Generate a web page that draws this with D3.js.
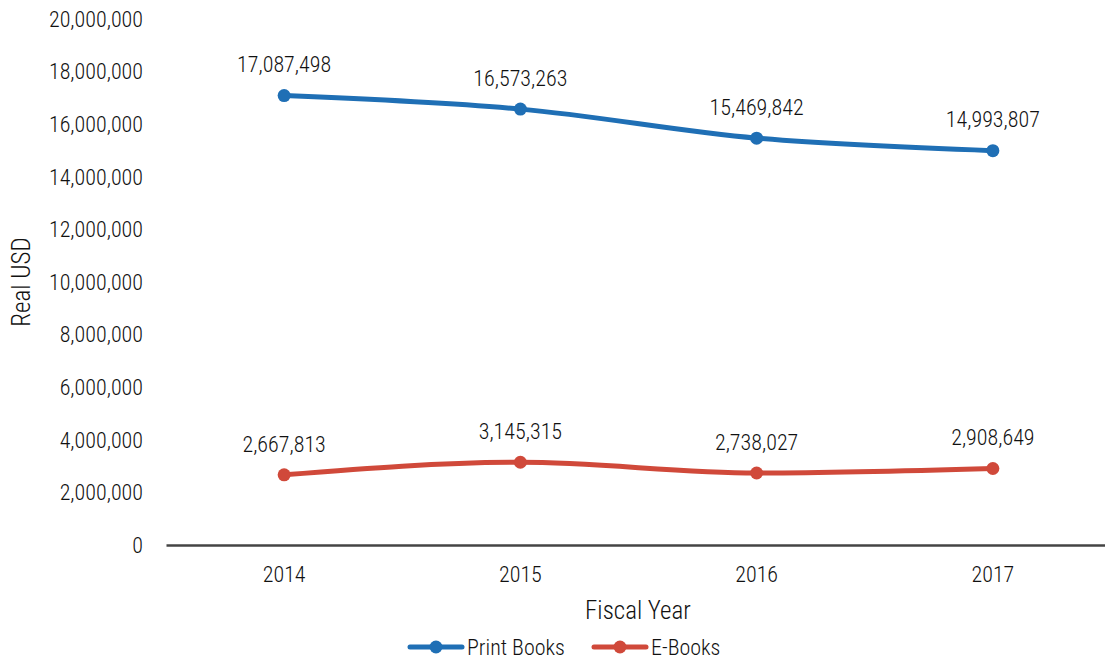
<!DOCTYPE html>
<html>
<head>
<meta charset="utf-8">
<script src="https://cdn.jsdelivr.net/npm/d3@7"></script>
<style>
  html, body { margin: 0; padding: 0; background: #fff; }
  svg { display: block; font-family: "Liberation Sans Narrow", "Arial Narrow", "Roboto Condensed", sans-serif; font-weight: 300; }
</style>
</head>
<body>
<svg id="chart" width="1105" height="663"></svg>
<script>
const years = ["2014", "2015", "2016", "2017"];
const printBooks = [17087498, 16573263, 15469842, 14993807];
const eBooks = [2667813, 3145315, 2738027, 2908649];
const yTicks = [0, 2000000, 4000000, 6000000, 8000000, 10000000, 12000000, 14000000, 16000000, 18000000, 20000000];

const series = [
  { name: "Print Books", values: printBooks, color: "#1f6fb5" },
  { name: "E-Books", values: eBooks, color: "#d0493a" }
];

const svg = d3.select("#chart");
const fmt = d3.format(",");
const textColor = "#111";

const x = d3.scaleBand().domain(years).range([166, 1111]);
const y = d3.scaleLinear().domain([0, 20000000]).range([545, 19]);
const cx = d => x(d) + x.bandwidth() / 2;

// y tick labels (no axis line)
svg.append("g")
  .selectAll("text")
  .data(yTicks)
  .join("text")
  .attr("x", 143)
  .attr("y", d => y(d))
  .attr("dy", "0.35em")
  .attr("text-anchor", "end")
  .attr("font-size", 22)
  .attr("fill", textColor)
  .text(d => fmt(d));

// x axis
const xAxis = svg.append("g")
  .attr("transform", `translate(0,${y(0)})`)
  .call(d3.axisBottom(x).tickSize(0).tickPadding(21))
  .attr("font-family", null)
  .attr("font-size", null);
xAxis.select(".domain").attr("stroke", "#444").attr("stroke-width", 2.5);
xAxis.selectAll("text")
  .attr("font-size", 22)
  .attr("fill", textColor);

// axis titles
svg.append("text")
  .attr("x", 638).attr("y", 619)
  .attr("text-anchor", "middle")
  .attr("font-size", 25).attr("fill", textColor)
  .text("Fiscal Year");
svg.append("text")
  .attr("transform", "translate(30,282) rotate(-90)")
  .attr("text-anchor", "middle")
  .attr("font-size", 25).attr("fill", textColor)
  .text("Real USD");

const line = d3.line().x((d, i) => cx(years[i])).y(d => y(d)).curve(d3.curveMonotoneX);

series.forEach(s => {
  const g = svg.append("g");
  g.append("path")
    .attr("d", line(s.values))
    .attr("fill", "none")
    .attr("stroke", s.color)
    .attr("stroke-width", 5)
    .attr("stroke-linecap", "round");
  g.selectAll("circle")
    .data(s.values)
    .join("circle")
    .attr("cx", (d, i) => cx(years[i]))
    .attr("cy", d => y(d))
    .attr("r", 6.5)
    .attr("fill", s.color);
  g.selectAll("text")
    .data(s.values)
    .join("text")
    .attr("x", (d, i) => cx(years[i]))
    .attr("y", d => y(d) - 31)
    .attr("dy", "0.35em")
    .attr("text-anchor", "middle")
    .attr("font-size", 22)
    .attr("fill", textColor)
    .text(d => fmt(d));
});

// legend
const legend = svg.append("g");
const legendX = [410, 594];
series.forEach((s, i) => {
  const lg = legend.append("g").attr("transform", `translate(${legendX[i]},647)`);
  lg.append("line")
    .attr("x1", 0).attr("x2", 52)
    .attr("stroke", s.color).attr("stroke-width", 5).attr("stroke-linecap", "round");
  lg.append("circle").attr("cx", 26).attr("r", 6.5).attr("fill", s.color);
  lg.append("text")
    .attr("x", 57).attr("dy", "0.35em")
    .attr("font-size", 22).attr("fill", textColor)
    .text(s.name);
});
</script>
</body>
</html>
